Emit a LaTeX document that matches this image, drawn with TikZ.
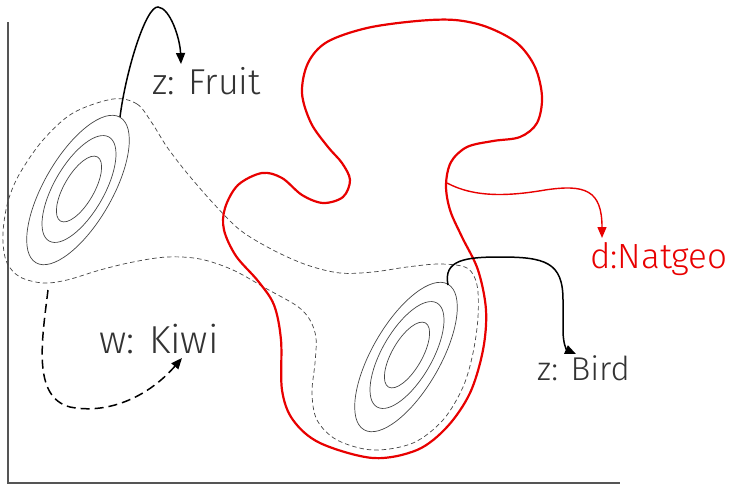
\documentclass[tikz,border=0pt]{standalone}
\usepackage{fontspec}
\setmainfont{Fira Sans}[UprightFont={* Light}]
\usetikzlibrary{arrows.meta}
\definecolor{txt}{HTML}{333333}
\definecolor{axisc}{HTML}{555555}
\definecolor{contour}{HTML}{444444}
\definecolor{redc}{HTML}{E80000}
\tikzset{
  axisline/.style={axisc, line width=1.6pt},
  contourline/.style={contour, line width=0.7pt},
  regionline/.style={contour, line width=0.7pt, dash pattern=on 4.5pt off 3pt},
  redline/.style={redc, line width=2.2pt},
  arrowline/.style={black, line width=1.5pt, -{Triangle[length=11pt,width=9pt]}},
  redarrow/.style={redc, line width=1.4pt, -{Triangle[length=11pt,width=9pt]}},
  kiwiarrow/.style={black, line width=1.5pt, dash pattern=on 9pt off 5pt, -{Triangle[length=11pt,width=9pt]}},
  lbl/.style={inner sep=0pt, anchor=base west, text=txt},
}
\begin{document}
\begin{tikzpicture}[x=1pt,y=-1pt]
\useasboundingbox (0,0) rectangle (738,485);
% axes
\coordinate (ytop) at (8,22);
\coordinate (orig) at (8,483);
\coordinate (xend) at (620,483);
\draw[axisline] (ytop) -- (orig) -- (xend);

% dashed region
\draw[regionline] plot[smooth cycle, tension=0.55] coordinates {
 (113,99) (137,104) (152,123) (167,147) (187,173) (213,203) (240,230)
 (273,250) (307,265) (340,273) (373,272) (407,267) (440,264) (467,268)
 (477,285) (478,317) (473,353) (463,387) (443,420) (413,443) (373,450)
 (337,440) (317,420) (312,393) (315,363) (316,338) (310,320) (297,306)
 (267,289) (233,270) (200,259) (167,257) (133,262) (100,270) (67,280)
 (43,283) (20,277) (7,263) (3,243) (4,222) (9,198) (20,173) (43,140) (73,113)};

% left contours
\coordinate (cl) at (79,189);
\draw[contourline, rotate around={60:(cl)}] (cl) ellipse (37 and 15);
\draw[contourline, rotate around={60:(cl)}] (cl) ellipse (60 and 25);
\coordinate (cl2) at (78,190);
\draw[contourline, rotate around={60:(cl2)}] (cl2) ellipse (84 and 34);
% right contours
\coordinate (cr) at (407,355);
\draw[contourline, rotate around={60:(cr)}] (cr) ellipse (37 and 15);
\draw[contourline, rotate around={60:(cr)}] (cr) ellipse (60 and 25);
\coordinate (cr2) at (406,357);
\draw[contourline, rotate around={60:(cr2)}] (cr2) ellipse (84 and 34);

% red region
\draw[redline] plot[smooth cycle, tension=0.55] coordinates {
 (367,28) (417,21) (455,20) (487,27) (517,43) (535,67) (542,97) (537,123)
 (520,137) (493,141) (467,147) (451,162) (446,185) (450,210) (462,237)
 (478,270) (486,310) (483,350) (470,393) (447,427) (417,450) (373,458)
 (320,443) (293,420) (282,390) (281,340) (274,305) (258,281) (236,256)
 (224,230) (225,208) (238,185) (262,173) (282,178) (302,195) (323,203)
 (343,197) (350,180) (342,163) (328,147) (311,123) (302,93) (308,63) (327,42)};

% labels
\node[lbl, font=\fontsize{36}{40}\selectfont] (fruit) at (152,94) {z: Fruit};
\node[lbl, font=\fontsize{39}{44}\selectfont] (kiwi) at (99,353) {w: Kiwi};
\node[lbl, font=\fontsize{33}{38}\selectfont] (bird) at (537,380) {z: Bird};
\node[lbl, font=\fontsize{35}{40}\selectfont, text=redc] (natgeo) at (590,268) {d:Natgeo};

% arrows
\coordinate (fs) at (120,117);
\coordinate (ft) at (181,64);
\draw[arrowline] (fs) .. controls (126,70) and (146,6) .. (158,7) .. controls (170,8) and (180,38) .. (ft);

\coordinate (bs) at (448,285);
\coordinate (bt) at (576,354);
\draw[arrowline] (bs) .. controls (443,260) and (465,257) .. (500,257) .. controls (545,257) and (563,262) .. (563,300) -- (563,330) .. controls (563,345) and (567,350) .. (bt);

\coordinate (ds) at (447,183);
\coordinate (dt) at (602,238);
\draw[redarrow] (ds) .. controls (475,198) and (510,196) .. (545,190) .. controls (585,184) and (602,190) .. (dt);

\coordinate (ks) at (48,290);
\coordinate (kt) at (182,358);
\draw[kiwiarrow] (ks) .. controls (42,340) and (32,397) .. (70,407) .. controls (110,415) and (150,395) .. (kt);
\end{tikzpicture}
\end{document}
